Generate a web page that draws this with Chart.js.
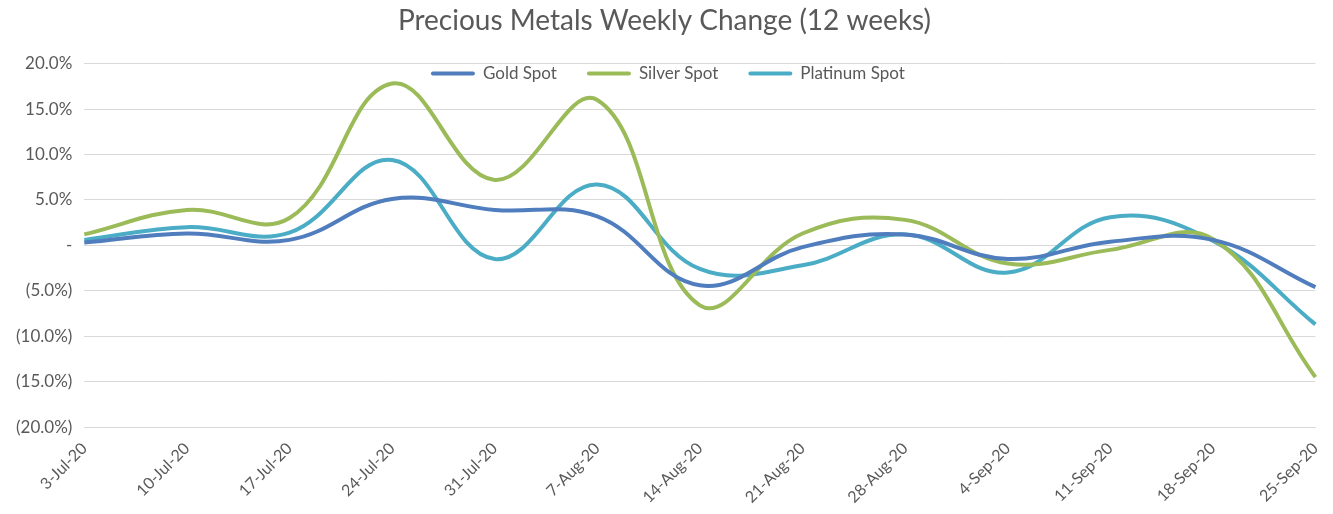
<!DOCTYPE html>
<html>
<head>
<meta charset="utf-8">
<script src="https://cdn.jsdelivr.net/npm/chart.js@4/dist/chart.umd.min.js"></script>
<style>
  html, body { margin: 0; padding: 0; background: #fff; }
  #wrap { width: 1333px; height: 514px; position: relative; }
</style>
</head>
<body>
<div id="wrap"><canvas id="chart"></canvas></div>
<script>
'use strict';

// 週ごとの変化率（%）
const weeks = ['3-Jul-20', '10-Jul-20', '17-Jul-20', '24-Jul-20', '31-Jul-20', '7-Aug-20',
    '14-Aug-20', '21-Aug-20', '28-Aug-20', '4-Sep-20', '11-Sep-20', '18-Sep-20', '25-Sep-20'];
const gold     = [0.3, 1.3, 0.6, 5.1, 3.9, 3.2, -4.4, -0.2, 1.2, -1.5, 0.4, 0.6, -4.6];
const silver   = [1.2, 3.9, 3.0, 17.8, 7.2, 16.0, -6.6, 1.3, 2.8, -2.0, -0.5, 0.7, -14.5];
const platinum = [0.6, 2.0, 1.4, 9.4, -1.5, 6.7, -2.6, -2.2, 1.2, -3.0, 3.1, 0.5, -8.7];

const FONT = 'Lato, "Open Sans", sans-serif';
const TEXT = '#595959';

function fmtPct(v) {
    if (Math.abs(v) < 1e-9) return '-';
    const s = Math.abs(v).toFixed(1) + '%';
    return v < 0 ? '(' + s + ')' : s;
}

function line(label, data, color) {
    return {
        label: label,
        data: data,
        borderColor: color,
        backgroundColor: color,
        borderWidth: 4,
        pointRadius: 0,
        tension: 0.4,
        fill: false
    };
}

// 凡例はプロットの中（上部）に横並びで描く
const innerLegend = {
    id: 'innerLegend',
    afterDatasetsDraw(chart) {
        const ctx = chart.ctx;
        const area = chart.chartArea;
        const sets = chart.data.datasets;
        const lineW = 44, gap = 8, spacing = 30;
        ctx.save();
        ctx.font = '17px ' + FONT;
        const widths = sets.map(d => lineW + gap + ctx.measureText(d.label).width);
        const total = widths.reduce((a, b) => a + b, 0) + spacing * (sets.length - 1);
        let x = (area.left + area.right) / 2 - total / 2 - 32;
        const y = area.top + 10;
        sets.forEach((d, i) => {
            ctx.strokeStyle = d.borderColor;
            ctx.lineWidth = 4;
            ctx.lineCap = 'round';
            ctx.beginPath();
            ctx.moveTo(x + 2, y);
            ctx.lineTo(x + lineW - 2, y);
            ctx.stroke();
            ctx.fillStyle = TEXT;
            ctx.textBaseline = 'middle';
            ctx.fillText(d.label, x + lineW + gap, y);
            x += widths[i] + spacing;
        });
        ctx.restore();
    }
};

new Chart(document.getElementById('chart'), {
    type: 'line',
    data: {
        labels: weeks,
        datasets: [
            line('Gold Spot', gold, '#4f7dbd'),
            line('Silver Spot', silver, '#9bbb59'),
            line('Platinum Spot', platinum, '#4bacc6')
        ]
    },
    options: {
        responsive: true,
        maintainAspectRatio: false,
        animation: false,
        layout: { padding: { left: 4, right: 8, top: 4, bottom: 3 } },
        scales: {
            x: {
                grid: { display: false },
                border: { color: '#d9d9d9' },
                ticks: {
                    color: TEXT,
                    font: { family: FONT, size: 16 },
                    maxRotation: 45,
                    minRotation: 45,
                    autoSkip: false,
                    padding: 4
                }
            },
            y: {
                min: -20,
                max: 20,
                grid: { color: '#d9d9d9', drawTicks: false },
                border: { display: false },
                ticks: {
                    stepSize: 5,
                    padding: 12,
                    color: TEXT,
                    font: { family: FONT, size: 17 },
                    callback: v => fmtPct(v)
                }
            }
        },
        plugins: {
            title: {
                display: true,
                text: 'Precious Metals Weekly Change (12 weeks)',
                color: TEXT,
                font: { family: FONT, size: 28, weight: 'normal' },
                padding: { top: 0, bottom: 26 }
            },
            legend: { display: false },
            tooltip: { enabled: false }
        }
    },
    plugins: [innerLegend]
});
</script>
</body>
</html>
